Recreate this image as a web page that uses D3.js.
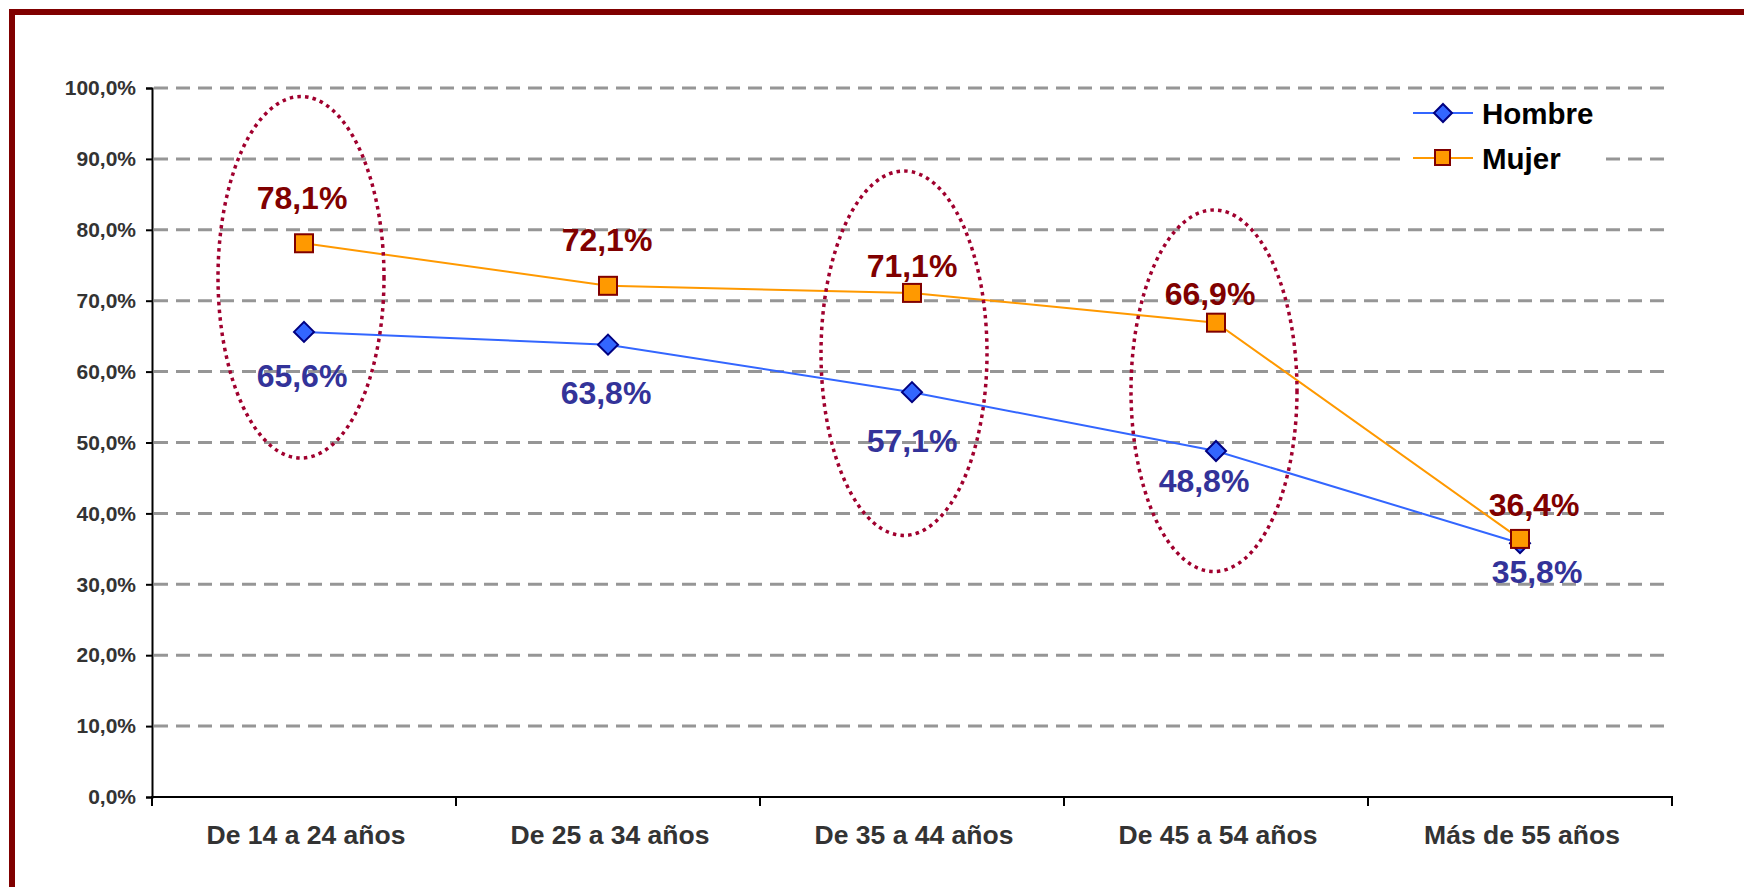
<!DOCTYPE html>
<html>
<head>
<meta charset="utf-8">
<script src="https://d3js.org/d3.v7.min.js"></script>
<style>
  body { margin: 0; background: #fff; }
  text { font-family: "Liberation Sans", Arial, sans-serif; font-weight: bold; }
</style>
</head>
<body>
<div id="container"></div>
<script>
  // data
  var categories = ["De 14 a 24 años", "De 25 a 34 años", "De 35 a 44 años", "De 45 a 54 años", "Más de 55 años"];
  var hombre = [65.6, 63.8, 57.1, 48.8, 35.8];
  var mujer = [78.1, 72.1, 71.1, 66.9, 36.4];
  var yTicks = [0, 10, 20, 30, 40, 50, 60, 70, 80, 90, 100];
  var seriesNames = ["Hombre", "Mujer"];

  // dotted rings around some groups: category, centre value, half height (in %)
  var highlights = [
    { cat: 0, mid: 73.3, half: 25.5, dx: -3 },
    { cat: 2, mid: 62.6, half: 25.7, dx: -8 },
    { cat: 3, mid: 57.3, half: 25.5, dx: -2 }
  ];

  // labels were placed by hand in the original, so keep their nudges
  var mujerShift = [[-2, -34], [-1, -35], [0, -16], [-6, -18], [14, -23]];
  var hombreShift = [[-2, 55], [-2, 59], [0, 60], [-12, 41], [17, 40]];

  var width = 1744, height = 887;
  var plotLeft = 152, plotRight = 1672, plotTop = 88, plotBottom = 797;

  var svg = d3.select("#container").append("svg")
    .attr("width", width)
    .attr("height", height);

  svg.append("rect")
    .attr("width", width).attr("height", height)
    .attr("fill", "#fff");

  // frame (only top and left show in the original)
  svg.append("rect")
    .attr("x", 12).attr("y", 12)
    .attr("width", 3000).attr("height", 3000)
    .attr("fill", "none")
    .attr("stroke", "#800000")
    .attr("stroke-width", 6);

  var x = d3.scaleBand().domain(categories).range([plotLeft, plotRight]).padding(0);
  var y = d3.scaleLinear().domain([0, 100]).range([plotBottom, plotTop]);
  var cx = function(i) { return x(categories[i]) + x.bandwidth() / 2; };
  var fmt = function(v) { return d3.format(".1f")(v).replace(".", ",") + "%"; };

  // grid
  svg.append("g").selectAll("line")
    .data(yTicks.filter(function(d) { return d > 0; }))
    .enter().append("line")
      .attr("x1", plotLeft + 2).attr("x2", plotRight)
      .attr("y1", function(d) { return y(d); })
      .attr("y2", function(d) { return y(d); })
      .attr("stroke", "#969696")
      .attr("stroke-width", 3)
      .attr("stroke-dasharray", "14,8");

  // y axis
  var yAxis = svg.append("g")
    .attr("transform", "translate(" + plotLeft + ",0)")
    .call(d3.axisLeft(y).tickValues(yTicks).tickFormat(fmt).tickSize(6).tickPadding(10));
  yAxis.select(".domain").attr("stroke", "#000").attr("stroke-width", 2);
  yAxis.selectAll(".tick line").attr("stroke", "#000").attr("stroke-width", 2);
  yAxis.selectAll(".tick text")
    .attr("fill", "#333")
    .style("font-size", "21px");

  // x axis: labels centred, tick marks on the band edges
  var xAxis = svg.append("g")
    .attr("transform", "translate(0," + plotBottom + ")")
    .call(d3.axisBottom(x).tickSize(0).tickPadding(28));
  xAxis.select(".domain").remove();
  xAxis.selectAll(".tick text")
    .attr("fill", "#333")
    .attr("dx", 2)
    .style("font-size", "26.5px");

  var edges = categories.map(function(c) { return x(c); }).concat([plotRight]);
  svg.append("line")
    .attr("x1", plotLeft - 1).attr("x2", plotRight + 1)
    .attr("y1", plotBottom).attr("y2", plotBottom)
    .attr("stroke", "#000").attr("stroke-width", 2);
  svg.append("g").selectAll("line")
    .data(edges)
    .enter().append("line")
      .attr("x1", function(d) { return d; })
      .attr("x2", function(d) { return d; })
      .attr("y1", plotBottom).attr("y2", plotBottom + 9)
      .attr("stroke", "#000").attr("stroke-width", 2);

  // lines
  var line = d3.line()
    .x(function(d, i) { return cx(i); })
    .y(function(d) { return y(d); });

  svg.append("path").datum(hombre)
    .attr("d", line)
    .attr("fill", "none")
    .attr("stroke", "#3366FF")
    .attr("stroke-width", 2);

  svg.append("path").datum(mujer)
    .attr("d", line)
    .attr("fill", "none")
    .attr("stroke", "#FF9900")
    .attr("stroke-width", 2);

  // markers
  var diamond = function(s) {
    return "M0," + (-s) + "L" + s + ",0L0," + s + "L" + (-s) + ",0Z";
  };

  svg.append("g").selectAll("path")
    .data(hombre)
    .enter().append("path")
      .attr("d", diamond(10))
      .attr("transform", function(d, i) { return "translate(" + cx(i) + "," + y(d) + ")"; })
      .attr("fill", "#3366FF")
      .attr("stroke", "#000080")
      .attr("stroke-width", 2);

  svg.append("g").selectAll("rect")
    .data(mujer)
    .enter().append("rect")
      .attr("x", function(d, i) { return cx(i) - 9; })
      .attr("y", function(d) { return y(d) - 9; })
      .attr("width", 18).attr("height", 18)
      .attr("fill", "#FF9900")
      .attr("stroke", "#800000")
      .attr("stroke-width", 2);

  // dotted rings
  svg.append("g").selectAll("ellipse")
    .data(highlights)
    .enter().append("ellipse")
      .attr("cx", function(d) { return cx(d.cat) + d.dx; })
      .attr("cy", function(d) { return y(d.mid); })
      .attr("rx", 83)
      .attr("ry", function(d) { return y(0) - y(d.half); })
      .attr("fill", "none")
      .attr("stroke", "#A0002E")
      .attr("stroke-width", 3.5)
      .attr("stroke-dasharray", "3.5,4.2");

  // value labels
  svg.append("g").selectAll("text")
    .data(mujer)
    .enter().append("text")
      .attr("x", function(d, i) { return cx(i) + mujerShift[i][0]; })
      .attr("y", function(d, i) { return y(d) + mujerShift[i][1]; })
      .attr("text-anchor", "middle")
      .attr("fill", "#800000")
      .style("font-size", "32px")
      .text(fmt);

  svg.append("g").selectAll("text")
    .data(hombre)
    .enter().append("text")
      .attr("x", function(d, i) { return cx(i) + hombreShift[i][0]; })
      .attr("y", function(d, i) { return y(d) + hombreShift[i][1]; })
      .attr("text-anchor", "middle")
      .attr("fill", "#333399")
      .style("font-size", "32px")
      .text(fmt);

  // legend
  var legend = svg.append("g");
  legend.append("rect")
    .attr("x", 1405).attr("y", 94)
    .attr("width", 198).attr("height", 90)
    .attr("fill", "#fff");

  var rows = legend.selectAll("g.row")
    .data(seriesNames)
    .enter().append("g")
      .attr("class", "row")
      .attr("transform", function(d, i) { return "translate(1413," + (113 + i * 45) + ")"; });

  rows.append("line")
    .attr("x1", 0).attr("x2", 60)
    .attr("stroke", function(d, i) { return i === 0 ? "#3366FF" : "#FF9900"; })
    .attr("stroke-width", 2);

  rows.filter(function(d, i) { return i === 0; }).append("path")
    .attr("d", diamond(9))
    .attr("transform", "translate(30,0)")
    .attr("fill", "#3366FF")
    .attr("stroke", "#000080")
    .attr("stroke-width", 2);

  rows.filter(function(d, i) { return i === 1; }).append("rect")
    .attr("x", 22).attr("y", -8)
    .attr("width", 15).attr("height", 15)
    .attr("fill", "#FF9900")
    .attr("stroke", "#800000")
    .attr("stroke-width", 2);

  rows.append("text")
    .attr("x", 69).attr("y", 11)
    .attr("fill", "#000")
    .style("font-size", "29.5px")
    .text(function(d) { return d; });
</script>
</body>
</html>
